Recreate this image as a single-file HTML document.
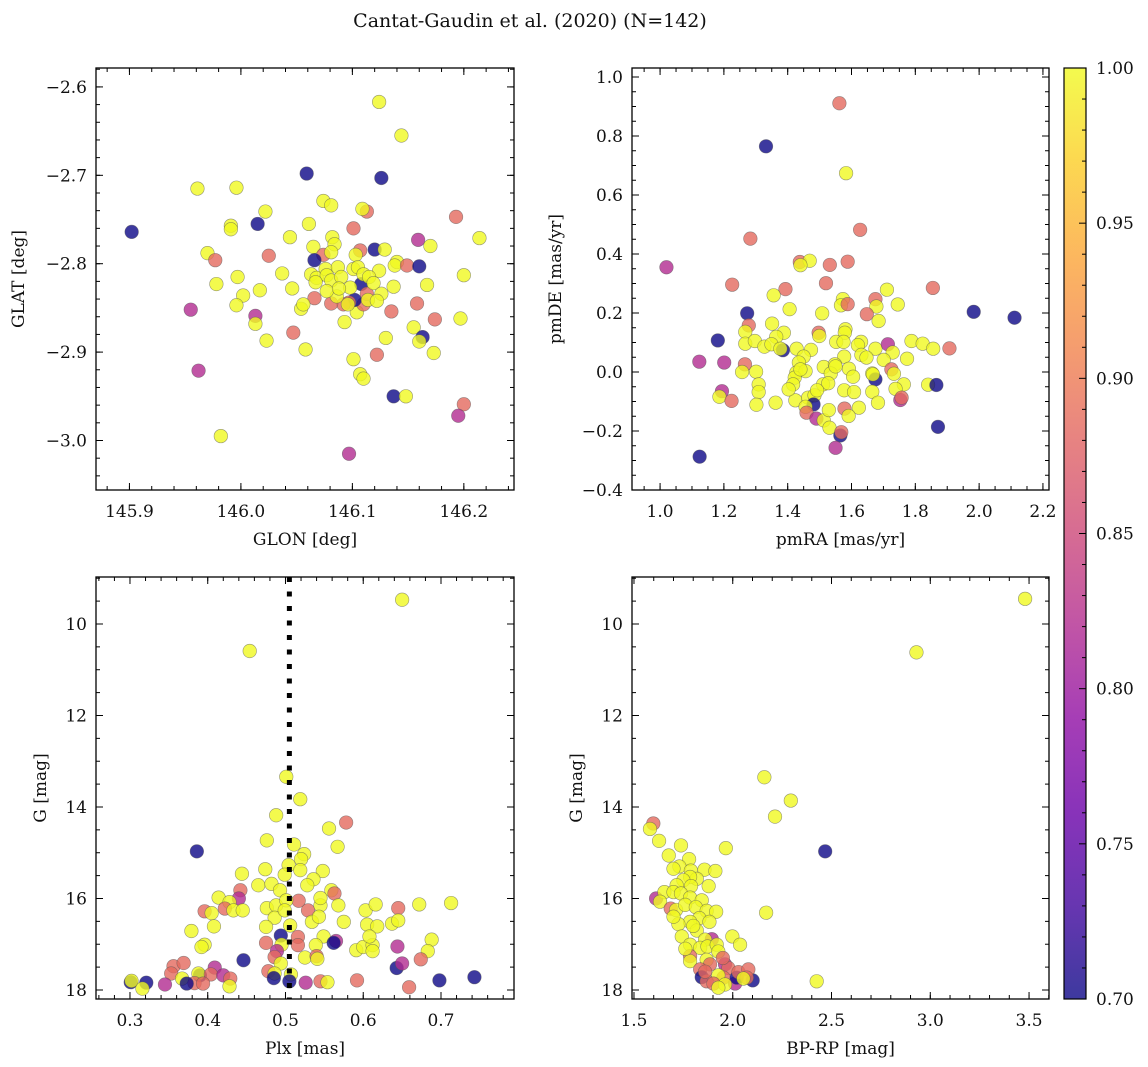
<!DOCTYPE html>
<html><head><meta charset="utf-8"><style>
html,body{margin:0;padding:0;background:#fff;}
svg{display:block;}
text{font-family:"DejaVu Serif","Liberation Serif",serif;fill:#111;}
</style></head><body>
<svg id="fig" width="1148" height="1067" viewBox="0 0 1148 1067" xmlns="http://www.w3.org/2000/svg">
<text x="530" y="27" font-size="19" text-anchor="middle">Cantat-Gaudin et al. (2020) (N=142)</text>
</svg>
<script>
// ---- Data (Y=1.0, O=0.885, M=0.82, D=0.70 membership probability) ----
const glon=[146.124,146.144,146.059,146.126,145.961,145.996,145.902,146.022,145.991,145.991,146.015,146.074,146.081,146.113,146.109,146.193,146.061,146.044,146.101,146.159,146.214,146.170,145.970,145.977,146.025,146.065,146.082,146.084,146.074,146.081,146.066,146.107,146.103,146.120,146.129,146.140,146.138,146.149,146.160,146.200,146.037,145.997,145.978,146.046,146.017,146.002,145.996,145.955,146.013,146.013,146.023,146.047,146.058,146.066,146.054,146.056,146.124,146.137,146.167,146.158,146.135,146.174,146.197,146.155,146.163,146.160,146.130,146.173,146.122,146.101,146.107,146.110,146.093,146.104,146.137,146.148,146.200,146.195,145.962,145.982,146.097,146.110,146.102,146.097,146.092,146.081,146.108,146.113,146.063,146.068,146.076,146.077,146.081,146.087,146.090,146.101,146.105,146.110,146.115,146.119,146.126,146.114,146.122,146.086,146.096,146.077,146.098,146.067,146.088];
const glat=[-2.617,-2.655,-2.698,-2.703,-2.715,-2.714,-2.764,-2.741,-2.757,-2.761,-2.755,-2.729,-2.734,-2.741,-2.738,-2.747,-2.755,-2.770,-2.760,-2.773,-2.771,-2.780,-2.788,-2.796,-2.791,-2.781,-2.770,-2.778,-2.790,-2.787,-2.796,-2.785,-2.790,-2.784,-2.784,-2.798,-2.802,-2.802,-2.803,-2.813,-2.811,-2.815,-2.823,-2.828,-2.830,-2.836,-2.847,-2.852,-2.859,-2.868,-2.887,-2.878,-2.897,-2.839,-2.851,-2.846,-2.808,-2.826,-2.824,-2.845,-2.854,-2.863,-2.862,-2.872,-2.883,-2.888,-2.884,-2.901,-2.903,-2.908,-2.925,-2.930,-2.866,-2.855,-2.950,-2.950,-2.959,-2.972,-2.921,-2.995,-3.015,-2.846,-2.841,-2.844,-2.846,-2.845,-2.823,-2.834,-2.812,-2.816,-2.806,-2.813,-2.819,-2.804,-2.815,-2.806,-2.804,-2.812,-2.815,-2.822,-2.834,-2.841,-2.842,-2.837,-2.846,-2.831,-2.827,-2.821,-2.828];
const probSky=[1,1,.7,.7,1,1,.7,1,1,1,.7,1,1,.885,1,.885,1,1,.885,.82,1,1,1,.885,.885,1,1,1,.885,1,.7,.885,1,.7,1,1,1,.885,.7,1,1,1,1,1,1,1,1,.82,.82,1,1,.885,1,.885,1,1,1,1,1,.885,.885,.885,1,1,.7,1,1,1,.885,1,1,1,1,1,.7,1,.885,.82,.82,1,.82,.885,.7,.885,.885,.885,.7,.885,1,1,1,1,1,1,1,1,1,1,1,1,1,1,1,1,1,1,1,1,1];

const pmra=[1.562,1.332,1.583,1.627,1.283,1.020,1.438,1.469,1.440,1.532,1.588,1.520,1.226,1.393,1.356,1.855,1.711,1.573,1.567,1.588,1.675,1.678,1.745,1.406,1.508,1.648,1.685,1.273,1.983,2.111,1.278,1.267,1.351,1.388,1.364,1.497,1.499,1.581,1.579,1.181,1.267,1.297,1.327,1.349,1.385,1.377,1.428,1.473,1.552,1.575,1.630,1.620,1.675,1.714,1.729,1.788,1.823,1.856,1.907,1.123,1.201,1.266,1.450,1.435,1.577,1.631,1.647,1.701,1.774,1.513,1.548,1.592,1.257,1.301,1.427,1.456,1.535,1.605,1.725,1.733,1.665,1.675,1.667,1.422,1.417,1.309,1.309,1.511,1.527,1.577,1.608,1.665,1.764,1.738,1.840,1.866,1.194,1.186,1.224,1.302,1.362,1.424,1.464,1.484,1.481,1.456,1.459,1.623,1.683,1.578,1.591,1.753,1.757,1.490,1.513,1.529,1.531,1.565,1.568,1.550,1.871,1.124,1.403,1.440,1.492,1.550];
const pmde=[0.911,0.765,0.674,0.482,0.452,0.355,0.373,0.377,0.362,0.363,0.374,0.301,0.296,0.281,0.260,0.285,0.279,0.247,0.226,0.230,0.247,0.222,0.229,0.213,0.199,0.196,0.173,0.199,0.204,0.184,0.158,0.136,0.164,0.133,0.119,0.133,0.122,0.145,0.133,0.107,0.096,0.105,0.086,0.094,0.074,0.079,0.079,0.075,0.102,0.102,0.102,0.091,0.079,0.094,0.066,0.105,0.096,0.079,0.080,0.035,0.032,0.026,0.052,0.032,0.052,0.058,0.049,0.041,0.045,0.017,0.026,0.011,0.000,0.001,-0.002,0.003,-0.005,-0.016,0.009,-0.006,-0.005,-0.025,-0.008,-0.019,-0.042,-0.042,-0.068,-0.042,-0.038,-0.062,-0.068,-0.067,-0.042,-0.057,-0.043,-0.044,-0.065,-0.084,-0.098,-0.111,-0.104,-0.096,-0.087,-0.079,-0.110,-0.118,-0.138,-0.121,-0.104,-0.124,-0.149,-0.095,-0.087,-0.158,-0.164,-0.129,-0.189,-0.215,-0.204,-0.257,-0.186,-0.287,-0.059,0.009,-0.062,0.019];
const probPm=[.885,.7,1,.885,.885,.82,.885,1,1,.885, .885,.885,.885,.885,1,.885,1,1,1,.885, .885,1,1,1,1,.885,1,.7,.7,.7, .885,1,1,1,1,.885,1,1,1,.7, 1,1,1,1,.7,1,1,1,1,1, 1,1,1,.82,1,1,1,1,.885,.82, .82,.885,1,1,1,1,1,1,1,1, 1,1,1,1,1,1,1,1,.885,1, 1,.7,1,1,1,1,1,1,1,1, 1,1,1,1,1,.7,.82,1,.885,1, 1,1,1,1,.7,1,.885,1,1,.885, 1,.82,.885,.82,1,1,1,.7,.885,.82, .7,.7,1,1,1,1];

const plx=[0.650,0.454,0.501,0.519,0.488,0.556,0.578,0.386,0.476,0.511,0.567,0.524,0.520,0.504,0.444,0.474,0.519,0.548,0.499,0.465,0.482,0.493,0.536,0.528,0.559,0.442,0.563,0.414,0.440,0.428,0.396,0.405,0.422,0.433,0.445,0.476,0.488,0.517,0.501,0.529,0.545,0.545,0.568,0.486,0.499,0.534,0.543,0.575,0.603,0.616,0.645,0.672,0.713,0.605,0.618,0.637,0.645,0.408,0.379,0.475,0.506,0.494,0.516,0.475,0.495,0.516,0.549,0.565,0.562,0.539,0.396,0.392,0.591,0.600,0.612,0.612,0.608,0.644,0.688,0.683,0.489,0.486,0.494,0.525,0.540,0.541,0.446,0.674,0.643,0.650,0.356,0.369,0.353,0.367,0.390,0.388,0.409,0.404,0.420,0.429,0.428,0.383,0.394,0.373,0.345,0.321,0.301,0.302,0.316,0.478,0.486,0.485,0.507,0.505,0.526,0.545,0.554,0.592,0.659,0.698,0.743];
const gmagA=[9.47,10.59,13.34,13.83,14.18,14.47,14.34,14.97,14.73,14.82,14.87,15.03,15.14,15.27,15.46,15.36,15.38,15.40,15.48,15.71,15.68,15.82,15.58,15.71,15.82,15.82,15.89,15.98,16.00,16.08,16.28,16.32,16.22,16.26,16.26,16.21,16.15,16.05,16.04,16.26,16.15,15.99,16.15,16.42,16.26,16.51,16.40,16.51,16.26,16.13,16.21,16.13,16.10,16.57,16.61,16.55,16.48,16.61,16.71,16.62,16.59,16.81,16.84,16.97,17.01,17.02,16.83,16.93,16.97,17.02,17.01,17.06,17.13,17.06,17.02,17.15,16.83,17.05,16.90,17.15,17.15,17.28,17.42,17.29,17.26,17.32,17.35,17.33,17.52,17.42,17.48,17.41,17.64,17.75,17.68,17.64,17.51,17.66,17.68,17.75,17.92,17.85,17.86,17.86,17.88,17.84,17.83,17.80,17.97,17.59,17.64,17.74,17.66,17.81,17.84,17.81,17.83,17.79,17.94,17.79,17.72];
const probPlx=[1,1,1,1,1,1,.885,.7,1,1, 1,1,1,1,1,1,1,1,1,1, 1,1,1,1,1,.885,.885,1,.82,1, .885,1,.885,1,1,1,1,.885,1,.885, 1,1,1,1,1,1,1,1,1,1, .885,1,1,1,1,1,1,1,1,1, 1,.7,.885,.885,1,.885,1,.82,.7,1, 1,1,1,1,1,1,1,.82,1,1, .82,.885,1,1,.885,1,.7,.885,.7,.82, .885,.885,.885,1,.7,1,.82,.885,.82,.885, 1,.885,.885,.7,.82,.7,.7,1,1,.885, 1,.7,1,.7,.82,.885,1,.885,.885,.7,.7];
const plxCut=[0.505];

const bprp=[1.598,1.581,1.627,1.738,1.676,1.779,1.965,1.730,1.700,1.788,1.857,1.912,1.818,1.784,1.750,1.878,1.789,1.716,1.612,1.654,1.700,1.738,1.632,1.784,1.843,1.686,1.713,1.759,1.813,1.868,1.916,1.831,1.882,1.784,1.725,1.818,1.742,1.894,1.860,1.998,2.037,1.784,1.835,1.872,1.919,1.927,1.784,1.784,1.868,1.885,1.961,1.978,1.835,1.843,1.868,1.953,1.927,1.902,2.012,2.020,2.101,2.029,2.079,2.071,1.961,1.927,2.054,2.160,2.294,2.214,2.468,2.169,2.425,2.930,3.480,1.800,1.700,1.760,1.950,1.860];
const gmagB=[14.36,14.48,14.74,14.84,15.06,15.14,14.90,15.30,15.35,15.39,15.37,15.40,15.57,15.53,15.60,15.73,15.73,15.71,16.00,15.86,15.86,15.89,16.07,15.98,16.04,16.22,16.25,16.14,16.19,16.27,16.29,16.43,16.51,16.51,16.56,16.70,16.83,16.89,16.90,16.83,17.01,17.01,17.08,17.05,17.01,17.16,17.26,17.37,17.34,17.44,17.44,17.52,17.55,17.72,17.81,17.73,17.68,17.86,17.86,17.73,17.79,17.61,17.55,17.73,17.88,17.95,17.75,13.35,13.86,14.21,14.97,16.31,17.81,10.62,9.45,16.60,16.40,17.10,17.30,17.60];
const probCmd=[.885,1,1,1,1,1,1,1,1,1, 1,1,1,1,1,1,1,1,.82,1, 1,1,1,1,1,.885,1,1,1,1, 1,1,1,1,1,1,1,.82,1,1, 1,1,1,1,1,1,.885,1,1,.885, .82,.885,.885,.7,.885,.885,1,.885,.82,.7, .7,.885,.885,.885,1,1,1,1,1,1, .7,1,1,1,1,1,1,1,.885,.885];

const cbTicks=[0.70,0.75,0.80,0.85,0.90,0.95,1.00];

// ---- helpers ----
const NS="http://www.w3.org/2000/svg";
const svg=document.getElementById('fig');
function mk(tag,attrs,parent){const e=document.createElementNS(NS,tag);for(const k in attrs)e.setAttribute(k,attrs[k]);(parent||svg).appendChild(e);return e;}
const stops=[[13,8,135],[65,4,157],[106,0,168],[143,13,164],[177,42,144],[204,71,120],[225,100,98],[242,132,75],[252,166,54],[252,206,37],[240,249,33]];
function plasma(t){t=Math.max(0,Math.min(1,t));const f=t*10,i=Math.min(9,Math.floor(f)),u=f-i;const a=stops[i],b=stops[i+1];return 'rgb('+[0,1,2].map(k=>Math.round(a[k]+(b[k]-a[k])*u)).join(',')+')';}
function pcol(p){return plasma((p-0.7)/0.3);}
function fmt(v,d){return (v<0?'\u2212':'')+Math.abs(v).toFixed(d);}

function panel(o){
  const g=mk('g',{});
  
  
  const sx=v=>o.L+(v-o.x0)/(o.x1-o.x0)*(o.R-o.L);
  const sy=v=>o.B-(v-o.y0)/(o.y1-o.y0)*(o.B-o.T);
  const clip='clip-'+o.name;
  const cp=mk('clipPath',{id:clip},g);mk('rect',{x:o.L,y:o.T,width:o.R-o.L,height:o.B-o.T},cp);
  const pts=mk('g',{'clip-path':'url(#'+clip+')'},g);
  
  
  for(let i=0;i<o.xs.length;i++){
    const c=mk('circle',{cx:sx(o.xs[i]),cy:sy(o.ys[i]),r:6.8,fill:pcol(o.ps[i]),'fill-opacity':0.8,stroke:'#555','stroke-opacity':0.6,'stroke-width':0.6},pts);
    
    
  }
  if(o.extra)o.extra(g,sx,sy);
  mk('rect',{x:o.L,y:o.T,width:o.R-o.L,height:o.B-o.T,fill:'none',stroke:'#000','stroke-width':1.3},g);
  // ticks
  const eps=1e-9;
  function xt(step,len,labels,d){
    const s=Math.ceil((Math.min(o.x0,o.x1))/step-eps);
    for(let k=s;k*step<=Math.max(o.x0,o.x1)+eps;k++){const v=k*step,x=sx(v);
      mk('line',{x1:x,x2:x,y1:o.B,y2:o.B-len,stroke:'#000','stroke-width':1},g);
      mk('line',{x1:x,x2:x,y1:o.T,y2:o.T+len,stroke:'#000','stroke-width':1},g);
      if(labels){const t=mk('text',{x:x,y:o.B+27,'font-size':17,'text-anchor':'middle'},g);t.textContent=fmt(v,d);
        }
    }}
  function yt(step,len,labels,d){
    const lo=Math.min(o.y0,o.y1),hi=Math.max(o.y0,o.y1);
    const s=Math.ceil(lo/step-eps);
    for(let k=s;k*step<=hi+eps;k++){const v=k*step,y=sy(v);
      mk('line',{x1:o.L,x2:o.L+len,y1:y,y2:y,stroke:'#000','stroke-width':1},g);
      mk('line',{x1:o.R,x2:o.R-len,y1:y,y2:y,stroke:'#000','stroke-width':1},g);
      if(labels){const t=mk('text',{x:o.L-9,y:y+6,'font-size':17,'text-anchor':'end'},g);t.textContent=fmt(v,d);
        }
    }}
  xt(o.xmin,4,false);xt(o.xmaj,7,true,o.xd);
  yt(o.ymin,4,false);yt(o.ymaj,7,true,o.yd);
  const xl=mk('text',{x:(o.L+o.R)/2,y:o.B+55,'font-size':17,'text-anchor':'middle'},g);xl.textContent=o.xlab;
  
  const yl=mk('text',{x:0,y:0,'font-size':17,'text-anchor':'middle',transform:'translate('+o.ylx+','+((o.T+o.B)/2)+') rotate(-90)'},g);yl.textContent=o.ylab;
  
}

panel({name:'sky-panel',L:96,T:68,R:514,B:490,x0:145.870,x1:146.245,y0:-3.056,y1:-2.5786,xs:glon,ys:glat,ps:probSky,xmaj:0.1,xmin:0.02,ymaj:0.1,ymin:0.02,xd:1,yd:1,xlab:'GLON [deg]',ylab:'GLAT [deg]',ylx:24});
panel({name:'pm-panel',L:632,T:68,R:1049,B:490,x0:0.912,x1:2.219,y0:-0.4,y1:1.0305,xs:pmra,ys:pmde,ps:probPm,xmaj:0.2,xmin:0.05,ymaj:0.2,ymin:0.05,xd:1,yd:1,xlab:'pmRA [mas/yr]',ylab:'pmDE [mas/yr]',ylx:561});
panel({name:'plx-panel',L:96,T:577,R:514,B:999,x0:0.2563,x1:0.7939,y0:18.197,y1:8.973,xs:plx,ys:gmagA,ps:probPlx,xmaj:0.1,xmin:0.02,ymaj:2,ymin:0.5,xd:1,yd:0,xlab:'Plx [mas]',ylab:'G [mag]',ylx:46,
  extra:(g,sx,sy)=>{const l=mk('line',{x1:sx(plxCut[0]),x2:sx(plxCut[0]),y1:577,y2:999,stroke:'#000','stroke-width':5,'stroke-dasharray':'5,9.5'},g);
    }});
panel({name:'cmd-panel',L:632,T:577,R:1049,B:999,x0:1.49,x1:3.601,y0:18.197,y1:8.973,xs:bprp,ys:gmagB,ps:probCmd,xmaj:0.5,xmin:0.1,ymaj:2,ymin:0.5,xd:1,yd:0,xlab:'BP-RP [mag]',ylab:'G [mag]',ylx:582});

// ---- colorbar ----
(function(){
  const L=1064,R=1086,T=68,B=999;
  const g=mk('g',{});
  
  
  const defs=mk('defs',{},g);
  const lg=mk('linearGradient',{id:'cbg',x1:0,y1:1,x2:0,y2:0},defs);
  for(let i=0;i<=20;i++){mk('stop',{offset:(i/20),'stop-color':plasma(i/20)},lg);}
  mk('rect',{x:L,y:T,width:R-L,height:B-T,fill:'url(#cbg)','fill-opacity':0.8},g);
  mk('rect',{x:L,y:T,width:R-L,height:B-T,fill:'none',stroke:'#000','stroke-width':1.2},g);
  const sy=v=>B-(v-0.7)/0.3*(B-T);
  for(let k=70;k<=100;k++){const y=sy(k/100);const maj=(k%5===0);
    mk('line',{x1:R,x2:R-(maj?7:4),y1:y,y2:y,stroke:'#000','stroke-width':1},g);}
  cbTicks.forEach(v=>{const t=mk('text',{x:R+10,y:sy(v)+6,'font-size':17},g);t.textContent=v.toFixed(2);
    });
})();
</script>
</body></html>
